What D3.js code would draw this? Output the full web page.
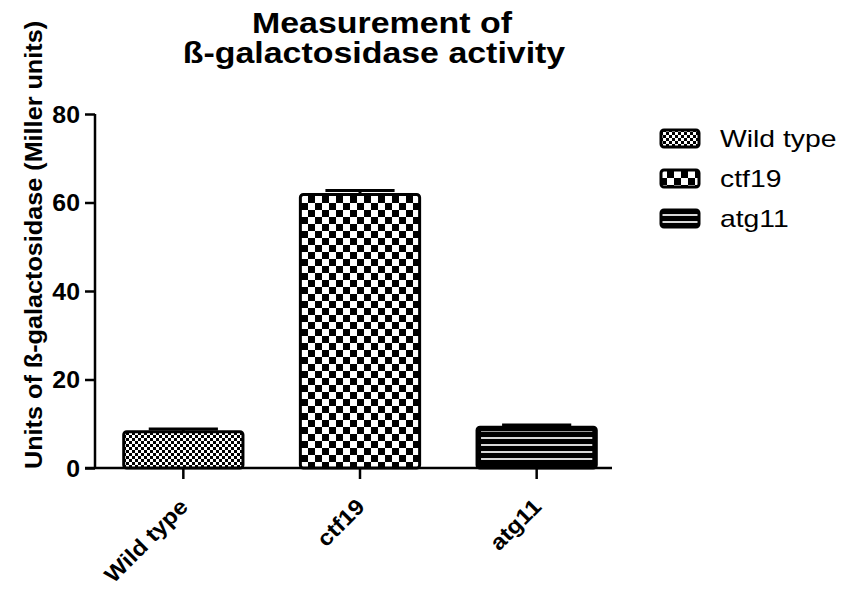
<!DOCTYPE html>
<html>
<head>
<meta charset="utf-8">
<script src="https://cdn.jsdelivr.net/npm/d3@7"></script>
<style>
  html, body { margin: 0; padding: 0; background: #fff; }
  svg { display: block; font-family: "Liberation Sans", Arial, sans-serif; }
</style>
</head>
<body>
<svg id="chart" width="844" height="590"></svg>
<script>
// ---- data ----
const categories = ["Wild type", "ctf19", "atg11"];
const means = [8.2, 61.8, 9.2];
const errors = [0.6, 0.9, 0.5];
const yTicks = [0, 20, 40, 60, 80];
const titleLines = ["Measurement of", "ß-galactosidase activity"];
const yTitle = "Units of ß-galactosidase (Miller units)";
const patterns = ["fineCheck", "bigCheck", "hLines"];

const svg = d3.select("#chart");
const defs = svg.append("defs");

// patterns
function checker(id, s) {
  const p = defs.append("pattern").attr("id", id).attr("patternUnits", "userSpaceOnUse")
    .attr("width", 2 * s).attr("height", 2 * s);
  p.append("rect").attr("width", 2 * s).attr("height", 2 * s).attr("fill", "#fff");
  p.append("rect").attr("x", 0).attr("y", 0).attr("width", s).attr("height", s).attr("fill", "#000");
  p.append("rect").attr("x", s).attr("y", s).attr("width", s).attr("height", s).attr("fill", "#000");
}
checker("fineCheck", 3);
checker("bigCheck", 7);
{
  const p = defs.append("pattern").attr("id", "hLines").attr("patternUnits", "userSpaceOnUse")
    .attr("width", 8).attr("height", 7).attr("y", 1);
  p.append("rect").attr("width", 8).attr("height", 7).attr("fill", "#000");
  p.append("rect").attr("y", 2).attr("width", 8).attr("height", 2).attr("fill", "#d8d8d8");
}

// scales
const y = d3.scaleLinear().domain([0, 80]).range([468, 114]);
const x = d3.scaleBand().domain(categories).range([95, 625]).padding(0);
const barW = x.bandwidth() * 0.675;
const cx = d => x(d) + x.bandwidth() / 2;

function stretch(sel, k) {
  sel.each(function () {
    const w = this.getComputedTextLength();
    d3.select(this).attr("textLength", w * k).attr("lengthAdjust", "spacingAndGlyphs");
  });
}

// title
const title = svg.append("g").attr("font-weight", "bold").attr("font-size", 30).attr("text-anchor", "middle");
title.selectAll("text").data(titleLines).join("text")
  .attr("x", (d, i) => i === 0 ? 382 : 374)
  .attr("y", (d, i) => 33 + i * 30)
  .text(d => d)
  .call(stretch, 1.13);

// y axis
const yAxis = svg.append("g").attr("transform", "translate(95,0)")
  .call(d3.axisLeft(y).tickValues(yTicks).tickSize(10).tickPadding(5).tickFormat(d3.format("d")));
yAxis.select(".domain").attr("d", `M0,${y(80)}V${y(0)}`).attr("stroke-width", 2.5);
yAxis.selectAll(".tick line").attr("stroke-width", 2.5);
yAxis.selectAll(".tick text").attr("font-size", 23).attr("font-weight", "bold")
  .attr("font-family", "Liberation Sans, Arial, sans-serif").attr("fill", "#000")
  .attr("dy", "0.36em").call(stretch, 1.08);

// x axis
const xAxis = svg.append("g").attr("transform", `translate(0,${y(0)})`)
  .call(d3.axisBottom(x).tickSize(11).tickFormat(""));
xAxis.select(".domain").attr("d", "M85,0H612").attr("stroke-width", 2.5);
xAxis.selectAll(".tick line").attr("stroke-width", 2.5);
xAxis.selectAll(".tick text").remove();

svg.append("g").attr("font-size", 22).attr("font-weight", "bold").attr("text-anchor", "end")
  .selectAll("text").data(categories).join("text")
  .attr("transform", d => `translate(${cx(d) + 6},${508}) rotate(-45)`)
  .text(d => d)
  .call(stretch, 1.1);

// y title
svg.append("text")
  .attr("transform", "translate(42,245) rotate(-90)")
  .attr("text-anchor", "middle").attr("font-size", 24).attr("font-weight", "bold")
  .text(yTitle).call(stretch, 1.05);

// bars
const bars = svg.append("g");
bars.selectAll("rect.bar").data(categories).join("rect").attr("class", "bar")
  .attr("x", d => cx(d) - barW / 2)
  .attr("y", (d, i) => y(means[i]))
  .attr("width", barW)
  .attr("height", (d, i) => y(0) - y(means[i]))
  .attr("rx", 3)
  .attr("fill", (d, i) => `url(#${patterns[i]})`)
  .attr("stroke", "#000").attr("stroke-width", 3);
// inner black margin for line-pattern bar
bars.selectAll("rect.inner").data(categories.filter((d, i) => patterns[i] === "hLines")).join("rect")
  .attr("class", "inner")
  .attr("x", d => cx(d) - barW / 2 + 2.5)
  .attr("y", d => y(means[categories.indexOf(d)]) + 2.5)
  .attr("width", barW - 5)
  .attr("height", d => y(0) - y(means[categories.indexOf(d)]) - 5)
  .attr("fill", "none").attr("stroke", "#000").attr("stroke-width", 3);

// error bars
const eb = svg.append("g").attr("stroke", "#000").attr("stroke-width", 3);
eb.selectAll("line.v").data(categories).join("line").attr("class", "v")
  .attr("x1", d => cx(d)).attr("x2", d => cx(d))
  .attr("y1", (d, i) => y(means[i])).attr("y2", (d, i) => y(means[i] + errors[i]));
eb.selectAll("line.cap").data(categories).join("line").attr("class", "cap")
  .attr("x1", d => cx(d) - barW * 0.29).attr("x2", d => cx(d) + barW * 0.29)
  .attr("y1", (d, i) => y(means[i] + errors[i])).attr("y2", (d, i) => y(means[i] + errors[i]));

// legend
const leg = svg.append("g");
const rows = leg.selectAll("g").data(categories).join("g")
  .attr("transform", (d, i) => `translate(660,${138 + i * 40})`);
rows.append("rect").attr("x", 1).attr("y", -8).attr("width", 38).attr("height", 17).attr("rx", 3)
  .attr("fill", (d, i) => `url(#${patterns[i]})`).attr("stroke", "#000").attr("stroke-width", 3);
rows.append("text").attr("x", 60).attr("y", 9).attr("font-size", 24).text(d => d).call(stretch, 1.18);
</script>
</body>
</html>
